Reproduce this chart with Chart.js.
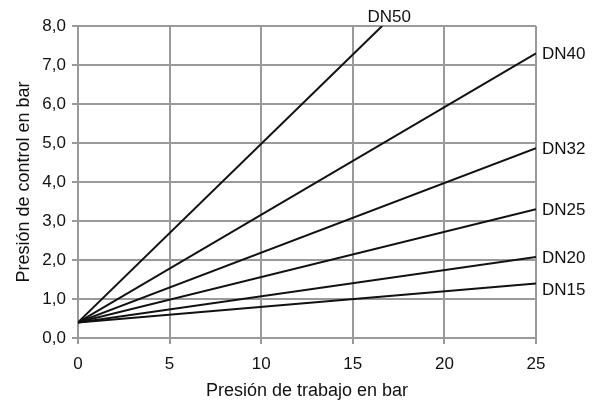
<!DOCTYPE html>
<html>
<head>
<meta charset="utf-8">
<script src="https://cdn.jsdelivr.net/npm/chart.js@4/dist/chart.umd.min.js"></script>
<style>
  html, body { margin: 0; padding: 0; background: #fff; }
  #wrap { width: 595px; height: 403px; }
</style>
</head>
<body>
<div id="wrap"><canvas id="chart"></canvas></div>
<script>
// start / end of each curve (x = working pressure, y = control pressure)
var seriesNames = ["DN50", "DN40", "DN32", "DN25", "DN20", "DN15"];
var xStart = [0, 0, 0, 0, 0, 0];
var xEnd = [16.6, 25, 25, 25, 25, 25];
var yStart = [0.4, 0.4, 0.4, 0.4, 0.4, 0.4];
var yEnd = [8.0, 7.3, 4.87, 3.3, 2.08, 1.4];
var xTicks = [0, 5, 10, 15, 20, 25];
var yTicks = [0, 1, 2, 3, 4, 5, 6, 7, 8];

var FONT = "'Liberation Sans', Arial, sans-serif";

var datasets = seriesNames.map(function (name, i) {
    return {
        label: name,
        data: [{x: xStart[i], y: yStart[i]}, {x: xEnd[i], y: yEnd[i]}],
        showLine: true,
        borderColor: "#111",
        borderWidth: 2,
        pointRadius: 0,
        fill: false,
    };
});

// DN labels next to the end of each line
var endLabels = {
    id: "endLabels",
    afterDatasetsDraw: function (chart) {
        var ctx = chart.ctx;
        ctx.save();
        ctx.fillStyle = "#111";
        ctx.font = "17px " + FONT;
        chart.data.datasets.forEach(function (ds, i) {
            var pts = chart.getDatasetMeta(i).data;
            var p = pts[pts.length - 1];
            if (ds.label === "DN50") {
                ctx.textAlign = "center";
                ctx.textBaseline = "bottom";
                ctx.fillText(ds.label, p.x + 7, p.y);
            } else {
                var dy = ds.label === "DN15" ? 7 : 1;
                ctx.textAlign = "left";
                ctx.textBaseline = "middle";
                ctx.fillText(ds.label, p.x + 6, p.y + dy);
            }
        });
        ctx.restore();
    },
};

new Chart(document.getElementById("chart"), {
    type: "scatter",
    data: { datasets: datasets },
    options: {
        responsive: true,
        maintainAspectRatio: false,
        animation: false,
        layout: { padding: { top: 26, right: 59, left: 0, bottom: 0 } },
        plugins: {
            legend: { display: false },
            tooltip: { enabled: false },
        },
        scales: {
            x: {
                type: "linear",
                min: 0,
                max: 25,
                afterBuildTicks: function (scale) {
                    scale.ticks = xTicks.map(function (v) { return {value: v}; });
                },
                afterFit: function (scale) { scale.height = 65; },
                grid: {
                    color: "#9a9a9a",
                    lineWidth: 2,
                    tickLength: 6,
                },
                border: { color: "#9a9a9a", width: 2 },
                ticks: {
                    color: "#111",
                    padding: 10,
                    maxRotation: 0,
                    font: { size: 17, family: FONT },
                },
                title: {
                    display: true,
                    text: "Presión de trabajo en bar",
                    color: "#111",
                    padding: { top: 0, bottom: 1 },
                    font: { size: 18, family: FONT },
                },
            },
            y: {
                type: "linear",
                min: 0,
                max: 8,
                afterBuildTicks: function (scale) {
                    scale.ticks = yTicks.map(function (v) { return {value: v}; });
                },
                afterFit: function (scale) { scale.width = 78; },
                grid: {
                    color: "#9a9a9a",
                    lineWidth: 2,
                    tickLength: 6,
                },
                border: { color: "#9a9a9a", width: 2 },
                ticks: {
                    color: "#111",
                    padding: 6,
                    font: { size: 17, family: FONT },
                    callback: function (v) { return v.toFixed(1).replace(".", ","); },
                },
                title: {
                    display: true,
                    text: "Presión de control en bar",
                    color: "#111",
                    padding: { top: 13, bottom: 0 },
                    font: { size: 18, family: FONT },
                },
            },
        },
    },
    plugins: [endLabels],
});
</script>
</body>
</html>
